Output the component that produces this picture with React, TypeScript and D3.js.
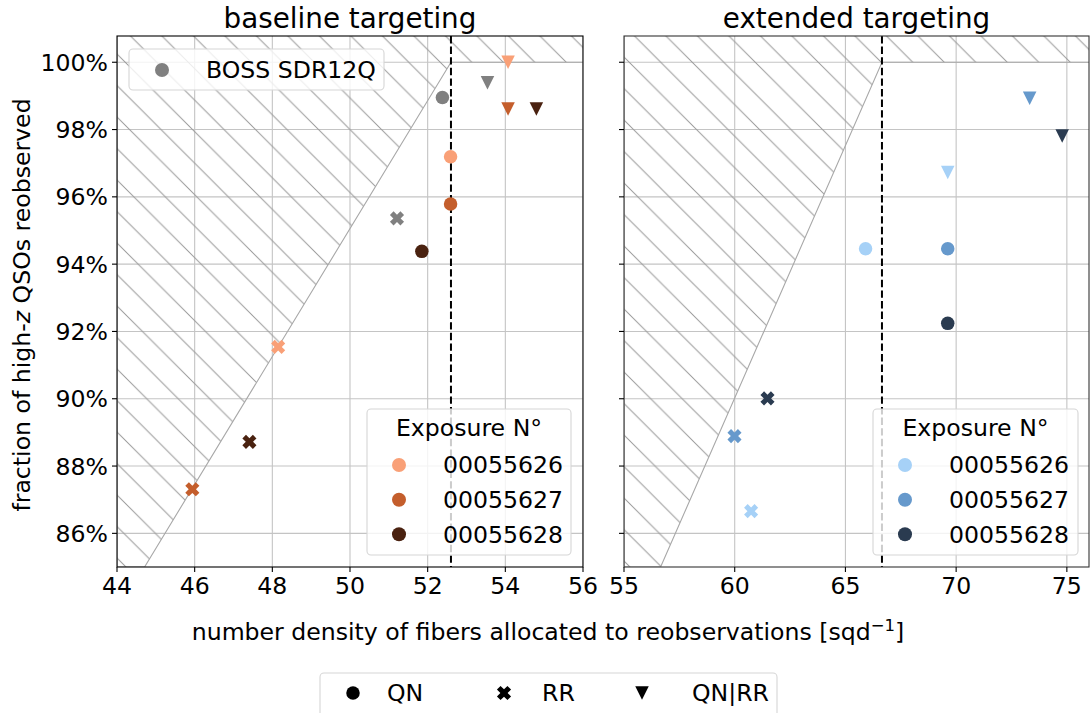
import React from "react";
import * as d3 from "d3";

// ---------- data ----------
const exposures = ["00055626", "00055627", "00055628"];
const baselineColors = ["#F9A077", "#C45E2C", "#4A2210"];
const extendedColors = ["#A6D1F7", "#6699CC", "#2A3B50"];
const bossColor = "#808080";

const baseQNx = [52.59, 52.59, 51.85];
const baseQNy = [97.19, 95.79, 94.38];
const baseRRx = [48.15, 45.94, 47.41];
const baseRRy = [91.54, 87.31, 88.72];
const baseQNRRx = [54.07, 54.07, 54.8];
const baseQNRRy = [100.0, 98.61, 98.61];

const bossQN = [52.38, 98.95];
const bossRR = [51.21, 95.36];
const bossQNRR = [53.54, 99.39];

const extQNx = [65.91, 69.62, 69.62];
const extQNy = [94.46, 94.46, 92.24];
const extRRx = [60.74, 59.99, 61.48];
const extRRy = [86.66, 88.89, 90.01];
const extQNRRx = [69.62, 73.32, 74.79];
const extQNRRy = [96.72, 98.93, 97.81];

const baseThreshold = 52.6;
const extThreshold = 66.65;

const yTicks = [86, 88, 90, 92, 94, 96, 98, 100];
const baseXTicks = [44, 46, 48, 50, 52, 54, 56];
const extXTicks = [55, 60, 65, 70, 75];
const yDomain = [85, 100.78];
const baseXDomain = [44, 56];
const extXDomain = [55, 76];

const methods = ["QN", "RR", "QN|RR"];

// ---------- layout ----------
const W = 1090, H = 713;
const top = 36, bottom = 567;
const leftPanel = { x0: 117, x1: 583 };
const rightPanel = { x0: 624, x1: 1089 };
const FONT = "DejaVu Sans, sans-serif";
const FS = 23.6;
const HP = 31.5; // hatch period

function markerPath(kind: string, s: number) {
  if (kind === "QN") {
    const r = s / 2;
    return `M${r},0A${r},${r} 0 1,1 ${-r},0A${r},${r} 0 1,1 ${r},0Z`;
  }
  if (kind === "QN|RR") {
    const h = s / 2;
    return `M0,${h}L${-h},${-h}L${h},${-h}Z`;
  }
  // filled X
  const L = s * 0.55, t = s * 0.19;
  const pts: [number, number][] = [
    [-t, -L], [t, -L], [t, -t], [L, -t], [L, t], [t, t], [t, L], [-t, L], [-t, t], [-L, t], [-L, -t], [-t, -t],
  ];
  const c = Math.SQRT1_2;
  return "M" + pts.map(([x, y]) => `${(x * c - y * c).toFixed(2)},${(x * c + y * c).toFixed(2)}`).join("L") + "Z";
}

function Marker({ kind, x, y, color, s = 13.5 }: any) {
  return <path d={markerPath(kind, s)} transform={`translate(${x},${y})`} fill={color} />;
}

function Panel({ id, px, xDomain, xTicks, threshold, title, showYLabels, spineColor, children }: any) {
  const x = d3.scaleLinear().domain(xDomain).range([px.x0, px.x1]);
  const y = d3.scaleLinear().domain(yDomain).range([bottom, top]);
  const poly: [number, number][] = [
    [xDomain[0], yDomain[0]],
    [threshold * yDomain[0] / 100, yDomain[0]],
    [threshold, 100],
    [xDomain[1] + 5, 100],
    [xDomain[1] + 5, yDomain[1] + 5],
    [xDomain[0], yDomain[1] + 5],
  ];
  const line = d3.line<[number, number]>().x(d => x(d[0])).y(d => y(d[1]));
  return (
    <g>
      <defs>
        <clipPath id={`clip-${id}`}>
          <rect x={px.x0} y={top} width={px.x1 - px.x0} height={bottom - top} />
        </clipPath>
        <pattern id={`hatch-${id}`} patternUnits="userSpaceOnUse" width={HP} height={HP}>
          <path d={`M-5,-5L${HP + 5},${HP + 5}M${-HP - 5},-5L5,${HP + 5}M${HP - 5},-5L${2 * HP + 5},${HP + 5}`} stroke="#9a9a9a" strokeWidth={1} />
        </pattern>
      </defs>
      <g clipPath={`url(#clip-${id})`}>
        {xTicks.map((t: number) => (
          <line key={"gx" + t} x1={x(t)} x2={x(t)} y1={top} y2={bottom} stroke="#c4c4c4" strokeWidth={1.1} />
        ))}
        {yTicks.map(t => (
          <line key={"gy" + t} x1={px.x0} x2={px.x1} y1={y(t)} y2={y(t)} stroke="#c4c4c4" strokeWidth={1.1} />
        ))}
        <path d={line(poly) + "Z"} fill={`url(#hatch-${id})`} stroke="#a8a8a8" strokeWidth={1.1} />
        <line x1={x(threshold)} x2={x(threshold)} y1={top} y2={bottom} stroke="#000" strokeWidth={2} strokeDasharray="7.4,3.2" />
        {children(x, y)}
      </g>
      {/* spines */}
      <rect x={px.x0} y={top} width={px.x1 - px.x0} height={bottom - top} fill="none" stroke={spineColor} strokeWidth={1.1} />
      {xTicks.map((t: number) => (
        <g key={"tx" + t}>
          <line x1={x(t)} x2={x(t)} y1={bottom} y2={bottom + 5} stroke="#000" strokeWidth={1.1} />
          <text x={x(t)} y={bottom + 27} textAnchor="middle" fontSize={FS} fontFamily={FONT}>{t}</text>
        </g>
      ))}
      {yTicks.map(t => (
        <g key={"ty" + t}>
          <line x1={px.x0 - 5} x2={px.x0} y1={y(t)} y2={y(t)} stroke="#000" strokeWidth={1.1} />
          {showYLabels && (
            <text x={px.x0 - 9} y={y(t)} dy="0.36em" textAnchor="end" fontSize={FS} fontFamily={FONT}>{t}%</text>
          )}
        </g>
      ))}
      <text x={(px.x0 + px.x1) / 2} y={28} textAnchor="middle" fontSize={27.8} fontFamily={FONT}>{title}</text>
    </g>
  );
}

function ExposureLegend({ x0, x1, colors }: any) {
  const y0 = 409, y1 = 555;
  const mx = x0 + 32, tx = x0 + 76;
  const rows = [465, 499.7, 534.3];
  return (
    <g>
      <rect x={x0} y={y0} width={x1 - x0} height={y1 - y0} rx={4} fill="#fff" fillOpacity={0.8} stroke="#d6d6d6" strokeWidth={1.1} />
      <text x={(x0 + x1) / 2} y={428} dy="0.36em" textAnchor="middle" fontSize={FS} fontFamily={FONT}>Exposure N°</text>
      {exposures.map((e, i) => (
        <g key={e}>
          <Marker kind="QN" x={mx} y={rows[i]} color={colors[i]} s={14} />
          <text x={tx} y={rows[i]} dy="0.36em" fontSize={FS} fontFamily={FONT}>{e}</text>
        </g>
      ))}
    </g>
  );
}

export default function App() {
  return (
    <svg width={W} height={H} style={{ position: "absolute", left: 0, top: 0, background: "#fff" }}>
      <Panel id="base" px={leftPanel} xDomain={baseXDomain} xTicks={baseXTicks} threshold={baseThreshold}
        title="baseline targeting" showYLabels={true} spineColor="#000">
        {(x: any, y: any) => (
          <g>
            <Marker kind="QN" x={x(bossQN[0])} y={y(bossQN[1])} color={bossColor} />
            <Marker kind="RR" x={x(bossRR[0])} y={y(bossRR[1])} color={bossColor} />
            <Marker kind="QN|RR" x={x(bossQNRR[0])} y={y(bossQNRR[1])} color={bossColor} />
            {exposures.map((e, i) => (
              <g key={e}>
                <Marker kind="QN" x={x(baseQNx[i])} y={y(baseQNy[i])} color={baselineColors[i]} />
                <Marker kind="RR" x={x(baseRRx[i])} y={y(baseRRy[i])} color={baselineColors[i]} />
                <Marker kind="QN|RR" x={x(baseQNRRx[i])} y={y(baseQNRRy[i])} color={baselineColors[i]} />
              </g>
            ))}
          </g>
        )}
      </Panel>
      <Panel id="ext" px={rightPanel} xDomain={extXDomain} xTicks={extXTicks} threshold={extThreshold}
        title="extended targeting" showYLabels={false} spineColor="#333">
        {(x: any, y: any) => (
          <g>
            {exposures.map((e, i) => (
              <g key={e}>
                <Marker kind="QN" x={x(extQNx[i])} y={y(extQNy[i])} color={extendedColors[i]} />
                <Marker kind="RR" x={x(extRRx[i])} y={y(extRRy[i])} color={extendedColors[i]} />
                <Marker kind="QN|RR" x={x(extQNRRx[i])} y={y(extQNRRy[i])} color={extendedColors[i]} />
              </g>
            ))}
          </g>
        )}
      </Panel>

      {/* BOSS legend */}
      <rect x={129} y={49} width={255} height={41} rx={4} fill="#fff" fillOpacity={0.8} stroke="#d6d6d6" strokeWidth={1.1} />
      <Marker kind="QN" x={162} y={70} color={bossColor} s={14} />
      <text x={206} y={70} dy="0.36em" fontSize={FS} fontFamily={FONT}>BOSS SDR12Q</text>

      <ExposureLegend x0={367} x1={571} colors={baselineColors} />
      <ExposureLegend x0={873} x1={1078} colors={extendedColors} />

      {/* axis labels */}
      <text x={548} y={640} textAnchor="middle" fontSize={FS} fontFamily={FONT}>
        number density of fibers allocated to reobservations [sqd<tspan dy={-9} fontSize={16.5}>−1</tspan><tspan dy={9}>]</tspan>
      </text>
      <text transform="translate(30,305) rotate(-90)" textAnchor="middle" fontSize={FS} fontFamily={FONT}>
        fraction of high-<tspan fontStyle="italic">z</tspan> QSOs reobserved
      </text>

      {/* method legend */}
      <rect x={320} y={673} width={457} height={60} rx={4} fill="#fff" stroke="#d6d6d6" strokeWidth={1.1} />
      {methods.map((m, i) => {
        const mx = [353, 504, 642][i];
        const tx = [387, 542, 692][i];
        return (
          <g key={m}>
            <Marker kind={m} x={mx} y={693} color="#000" s={13.5} />
            <text x={tx} y={693} dy="0.36em" fontSize={FS} fontFamily={FONT}>{m}</text>
          </g>
        );
      })}
    </svg>
  );
}
